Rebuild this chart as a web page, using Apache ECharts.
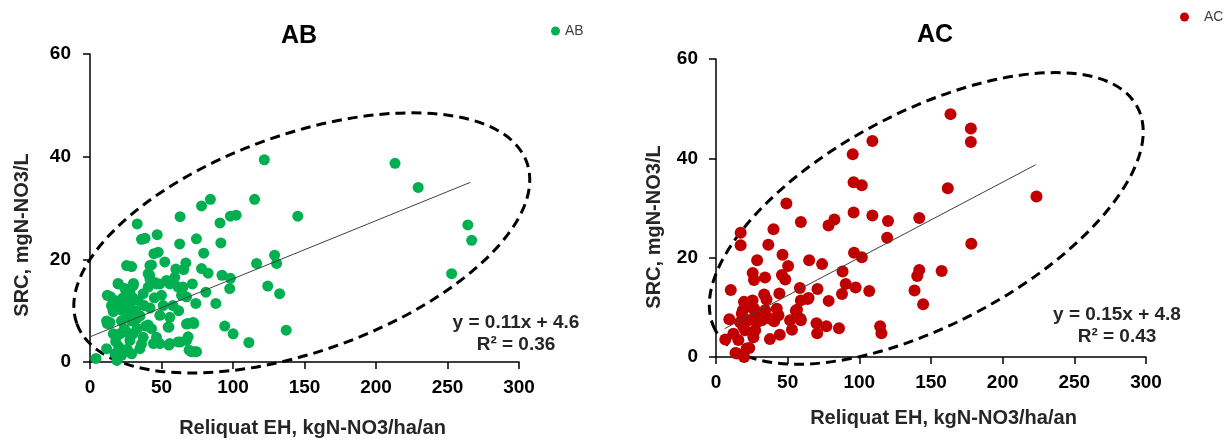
<!DOCTYPE html>
<html>
<head>
<meta charset="utf-8">
<script src="https://cdn.jsdelivr.net/npm/echarts@6/dist/echarts.min.js"></script>
<style>
html,body{margin:0;padding:0;background:#fff;}
#chart{width:1230px;height:445px;}
</style>
</head>
<body>
<div id="chart"></div>
<script>
// ---------- data ----------
const seriesNames = ['AB', 'AC'];
const xTicks = [0, 50, 100, 150, 200, 250, 300];
const yTicks = [0, 20, 40, 60];
const xAxisTitle = 'Reliquat EH, kgN-NO3/ha/an';
const yAxisTitle = 'SRC, mgN-NO3/L';
const equationAB = ['y = 0.11x + 4.6', 'R² = 0.36'];
const equationAC = ['y = 0.15x + 4.8', 'R² = 0.43'];

const pointsAB = [
  [121.9,39.4],[213.3,38.7],[229.5,34.0],[115.1,31.7],[84.2,31.7],[78,30.4],[145.3,28.4],[264.2,26.7],
  [266.9,23.7],[252.9,17.2],[63,28.3],[98.2,28.4],[102.2,28.6],[90.9,27.1],[33,26.9],[91.5,23.2],
  [62.7,23.0],[74.4,24.0],[36,23.9],[38.5,24.1],[47,24.8],[79.5,21.2],[129.1,20.8],[130.5,19.2],
  [116.5,19.2],[124.3,14.8],[132.6,13.3],[137.2,6.2],[111.1,3.8],[100.1,5.5],[94.2,7.0],[97.7,14.3],
  [98.2,16.3],[92.3,16.9],[88,11.4],[82.6,17.3],[78,18.2],[81,13.6],[74,11.4],[70.8,2.0],[74.5,2.0],
  [72.6,7.5],[68.6,7.5],[68.6,4.9],[63.2,3.9],[55.2,3.3],[44.4,3.6],[55.2,6.8],
  [4.2,0.7],[44.7,21.1],[47.7,21.4],[52.3,19.5],[25.6,18.8],[29.1,18.6],[41.9,18.8],[40.7,17.2],
  [19.8,15.2],[30.2,14.9],[12.1,13.0],[14.4,12.7],[17.5,12.0],[20.9,11.7],[16.3,9.8],[22.1,10.1],
  [25.6,10.4],[33.7,12.0],[37.2,13.3],[40.7,14.6],[45.3,15.5],[48.8,15.2],[53.5,15.9],[55.8,15.2],
  [61.6,14.6],[65.1,14.6],[71.6,15.2],[64,13.0],[67.5,12.7],[59.3,16.5],[60,18.1],[67,19.3],[65.5,18.0],
  [11.6,8.0],[14,7.7],[29.1,8.0],[32.6,8.4],[16.3,5.5],[20.9,5.5],[25.6,5.8],[11.6,2.6],[17.5,1.6],
  [22.1,1.3],[29.1,1.6],[34.9,2.6],[27.9,4.2],[37.2,4.8],[40.7,7.2],[43,6.5],[46.5,4.8],[48.8,3.6],
  [55.8,3.6],[61.6,3.9],[67.5,4.2],[69.3,2.3],[73.3,2.0],[54.6,6.8],[55.8,8.7],[67.5,7.4],[72.1,7.7],
  [48.8,9.1],[51.2,11.0],[24.4,14.3],[27.9,13.6],[41.9,16.2],[46.5,15.2],[18.8,0.3],[12.1,7.5],
  [16.1,10.1],[43,18.9],[41.7,16.9],[30.4,15.3],[19.6,15.3],
  [20,3],[24,6.5],[26,2.5],[30,5.5],[32,10],[35,9],[38,11],[28,11.5],[22,8],[18,4],[33,6.5],[36,3.5],
  [42,10.5],[45,12.5],[50,13],[58,11],[62,10],[30,12.5],[26,9],[39,7],[15,11],[23,12.5]
];

const pointsAC = [
  [163.6,48.9],[177.8,46.0],[177.8,43.3],[109.1,43.5],[95.4,40.8],[96,35.2],[101.7,34.6],[161.7,34.0],
  [223.6,32.3],[49.1,30.9],[96,29.1],[109.1,28.5],[120,27.4],[141.8,28.0],[82.6,27.7],[78.5,26.5],
  [59.2,27.2],[40.1,25.7],[17.2,25.0],[17.2,22.5],[36.5,22.6],[119.4,24.0],[178.1,22.8],[96.3,21.0],
  [101.7,20.1],[46.4,20.6],[28.7,19.5],[65,19.5],[74,18.7],[50.3,18.3],[141.8,17.5],[140.4,16.3],
  [157.4,17.3],[88.3,17.2],[25.6,16.9],[26.5,15.5],[34.2,16.0],[46,16.5],[48.3,15.6],[58.5,13.9],
  [90.5,14.7],[97.4,14.0],[70.8,13.7],[106.9,13.3],[138.5,13.4],[10.3,13.5],[87.9,12.7],[44.2,12.8],
  [64.6,11.9],[59.2,11.4],[78.6,11.3],[144.5,10.6],[33.6,12.6],[35.2,11.6],[19.5,11.1],[25.5,11.4],
  [9.3,7.6],[56.5,9.5],[58.9,7.7],[114.5,6.2],[115.4,4.8],[85.8,5.8],[77,6.2],[70.1,6.8],[70.6,4.8],
  [53,5.5],[44.5,4.5],[37.6,3.6],[6.5,3.5],[13.6,0.8],[19.6,0],[21.4,1.7],[23.2,1.8],[12.1,4.7],
  [15.6,3.4],[14.5,0.7],[20.3,5.4],[27.3,5.4],[22.6,7.4],[28.5,7.0],[18,8.7],[23.8,10.1],[19,6.1],
  [26.1,4.0],[16.8,7.0],[51.7,7.4],[34.3,9.4],[40.6,7.2],[18.7,9.4],[26.6,9.7],[27.3,8.4],[42.4,9.7],
  [43.6,8.4],[55.7,9.3],[63.9,11.7],[59.2,7.4],[32,7.4],[37.8,7.7]
];

// trend line end points
const trendAB = [[0, 4.9], [266, 35.0]];
const trendAC = [[6, 5.7], [223, 38.7]];

// dashed ellipse annotations (center in data units)
const ellipseCenterAB = [[148.1, 23.2]];
const ellipseCenterAC = [[146.7, 27.9]];
</script>
<script>
const FONT = '"Liberation Sans", Arial, sans-serif';
const ellipseStyle = {
  AB: {rx: 239, ry: 108.5, deg: 19.7},
  AC: {rx: 238.7, ry: 106.5, deg: 27.8}
};

function makeX(idx, nameGap, namePadLeft) {
  return {
    type: 'value', gridIndex: idx, min: xTicks[0], max: xTicks[xTicks.length - 1],
    interval: xTicks[1] - xTicks[0],
    name: xAxisTitle, nameLocation: 'middle', nameGap: nameGap,
    nameTextStyle: {fontFamily: FONT, fontSize: 20, fontWeight: 'bold', color: '#262626', padding: [0, 0, 0, namePadLeft]},
    axisLine: {show: true, onZero: false, lineStyle: {color: '#000', width: 1.5}},
    axisTick: {show: true, length: 7, lineStyle: {color: '#000', width: 1.5}},
    splitLine: {show: false},
    axisLabel: {fontFamily: FONT, fontSize: 19, fontWeight: 'bold', color: '#000', margin: 16}
  };
}
function makeY(idx, nameGap, namePadRight, labelMargin) {
  return {
    type: 'value', gridIndex: idx, min: yTicks[0], max: yTicks[yTicks.length - 1],
    interval: yTicks[1] - yTicks[0],
    name: yAxisTitle, nameLocation: 'middle', nameGap: nameGap,
    nameTextStyle: {fontFamily: FONT, fontSize: 20, fontWeight: 'bold', color: '#262626', padding: [0, namePadRight, 0, 0]},
    axisLine: {show: true, onZero: false, lineStyle: {color: '#000', width: 1.5}},
    axisTick: {show: true, length: 7, lineStyle: {color: '#000', width: 1.5}},
    splitLine: {show: false},
    axisLabel: {fontFamily: FONT, fontSize: 19, fontWeight: 'bold', color: '#000', margin: labelMargin}
  };
}
function ellipseSeries(name, xi, center, st) {
  return {
    type: 'custom', name: name + '_ellipse', xAxisIndex: xi, yAxisIndex: xi,
    clip: false, silent: true, z: 1, data: center,
    renderItem: function (params, api) {
      const p = api.coord([api.value(0), api.value(1)]);
      return {
        type: 'ellipse', x: p[0], y: p[1], rotation: st.deg * Math.PI / 180,
        shape: {cx: 0, cy: 0, rx: st.rx, ry: st.ry},
        style: {fill: 'none', stroke: '#000', lineWidth: 3, lineDash: [10, 6]}
      };
    }
  };
}

const chart = echarts.init(document.getElementById('chart'), null, {renderer: 'canvas'});
const option = {
  backgroundColor: '#fff',
  animation: false,
  grid: [
    {left: 90, top: 54, width: 429, height: 308},
    {left: 716, top: 59, width: 430, height: 298}
  ],
  title: [
    {text: seriesNames[0], left: 281, top: 24, padding: 0, textStyle: {fontFamily: FONT, fontSize: 25, fontWeight: 'bold', color: '#000'}},
    {text: seriesNames[1], left: 917, top: 23, padding: 0, textStyle: {fontFamily: FONT, fontSize: 25, fontWeight: 'bold', color: '#000'}}
  ],
  legend: [
    {data: [seriesNames[0]], left: 551, top: 24, padding: 0, icon: 'circle', itemWidth: 9, itemHeight: 9,
     itemGap: 4, textStyle: {fontFamily: FONT, fontSize: 14, color: '#404040'}},
    {data: [seriesNames[1]], left: 1180, top: 10, padding: 0, icon: 'circle', itemWidth: 9, itemHeight: 9,
     textStyle: {fontFamily: FONT, fontSize: 14, color: '#404040', padding: [0, 0, 0, 10]}}
  ],
  xAxis: [makeX(0, 56, 16), makeX(1, 51, 25)],
  yAxis: [makeY(0, 58, 54, 19), makeY(1, 52, 38, 18)],
  graphic: [
    {type: 'text', x: 516, y: 323, style: {text: equationAB[0], fontFamily: FONT, fontSize: 19, fontWeight: 'bold', fill: '#262626', align: 'center', verticalAlign: 'middle'}},
    {type: 'text', x: 516, y: 345, style: {text: equationAB[1], fontFamily: FONT, fontSize: 19, fontWeight: 'bold', fill: '#262626', align: 'center', verticalAlign: 'middle'}},
    {type: 'text', x: 1117, y: 315, style: {text: equationAC[0], fontFamily: FONT, fontSize: 19, fontWeight: 'bold', fill: '#262626', align: 'center', verticalAlign: 'middle'}},
    {type: 'text', x: 1117, y: 337, style: {text: equationAC[1], fontFamily: FONT, fontSize: 19, fontWeight: 'bold', fill: '#262626', align: 'center', verticalAlign: 'middle'}}
  ],
  series: [
    ellipseSeries('AB', 0, ellipseCenterAB, ellipseStyle.AB),
    ellipseSeries('AC', 1, ellipseCenterAC, ellipseStyle.AC),
    {type: 'scatter', name: seriesNames[0], xAxisIndex: 0, yAxisIndex: 0, data: pointsAB,
     symbol: 'circle', symbolSize: 11, itemStyle: {color: '#00B050', opacity: 1}, z: 3},
    {type: 'scatter', name: seriesNames[1], xAxisIndex: 1, yAxisIndex: 1, data: pointsAC,
     symbol: 'circle', symbolSize: 12, itemStyle: {color: '#C00000', opacity: 1}, z: 3},
    {type: 'line', name: 'trendAB', xAxisIndex: 0, yAxisIndex: 0, data: trendAB, showSymbol: false,
     symbol: 'none', lineStyle: {color: '#404040', width: 1}, z: 4, silent: true},
    {type: 'line', name: 'trendAC', xAxisIndex: 1, yAxisIndex: 1, data: trendAC, showSymbol: false,
     symbol: 'none', lineStyle: {color: '#404040', width: 1}, z: 4, silent: true}
  ]
};
chart.setOption(option);
</script>
</body>
</html>
